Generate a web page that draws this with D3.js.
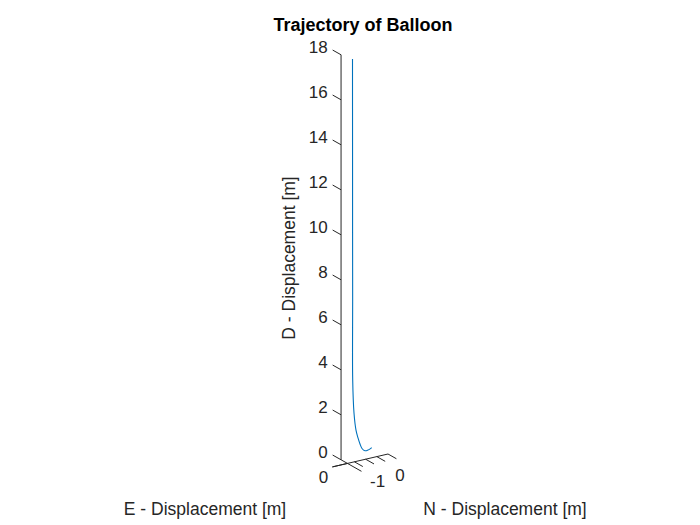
<!DOCTYPE html>
<html><head><meta charset="utf-8">
<script src="https://cdn.jsdelivr.net/npm/d3@7"></script>
<style>body{margin:0;background:#fff;} text{font-family:"Liberation Sans",Arial,sans-serif;fill:#262626;}</style>
</head><body>
<svg id="chart" width="700" height="525"></svg>
<script>
// ---- data ----
const trajE = [0.3, 0.3, 0.3, 0.3, 0.3, 0.3, 0.3, 0.3, 0.3, 0.3, 0.3, 0.3, 0.3, 0.3];
const trajN = [-1.317, -1.315, -1.313, -1.310, -1.308, -1.25, -1.161, -1.071, -0.982, -0.893, -0.759, -0.625, -0.53, -0.46];
const trajD = [17.71, 14.0, 10.0, 7.0, 3.44, 1.96, 1.18, 0.81, 0.52, 0.30, 0.17, 0.17, 0.20, 0.24];
const dTicks = [0, 2, 4, 6, 8, 10, 12, 14, 16, 18];
const dTickLabels = ["0", "2", "4", "6", "8", "10", "12", "14", "16", "18"];
const nTicks = [-1.5, -1, -0.5, 0];
const nTickLabels = ["", "-1", "", "0"];
const eTicks = [0];
const eTickLabels = ["0"];
const eDomain = [-0.7, 0.32];
const nDomain = [-2.5, 0];
const dDomain = [0, 18];
const nAxisE = 0;       // E position of N axis
const eAxisN = -1.81;   // N position of E axis / vertical axis
const zAxisE = 0.32;    // E position of vertical axis

// ---- projection via linear scales ----
const ox = 388, oy = 454;
const sEx = d3.scaleLinear().domain([0, 1]).range([0, -20]);
const sEy = d3.scaleLinear().domain([0, 1]).range([0, -11.3]);
const sNx = d3.scaleLinear().domain(nDomain).range([-56, 0]);
const sNy = d3.scaleLinear().domain(nDomain).range([13, 0]);
const sD  = d3.scaleLinear().domain(dDomain).range([0, -405]);
const P = (e, n, d) => [ox + sEx(e) + sNx(n), oy + sEy(e) + sNy(n) + sD(d)];

const svg = d3.select("#chart");
const ink = "#262626";
const g = svg.append("g");
const seg = (a, b) => g.append("line").attr("x1", a[0]).attr("y1", a[1]).attr("x2", b[0]).attr("y2", b[1])
  .attr("stroke", ink).attr("stroke-width", 1);
const tickFont = 17, labelFont = 17.5;

// vertical (D) axis
seg(P(zAxisE, eAxisN, dDomain[0]), P(zAxisE, eAxisN, dDomain[1]));
dTicks.forEach((t, i) => {
  const a = P(zAxisE, eAxisN, t), b = P(zAxisE + 0.42, eAxisN, t);
  seg(a, b);
  g.append("text").attr("x", b[0] - 5).attr("y", b[1] - 2).attr("text-anchor", "end")
    .attr("dominant-baseline", "middle").attr("font-size", tickFont).text(dTickLabels[i]);
});
// E axis
seg(P(eDomain[1], eAxisN, 0), P(eDomain[0], eAxisN, 0));
eTicks.forEach((t, i) => {
  const a = P(t, eAxisN, 0), b = P(t, eAxisN - 0.65, 0);
  seg(a, b);
  g.append("text").attr("x", a[0] - 24).attr("y", a[1] + 15).attr("text-anchor", "middle")
    .attr("dominant-baseline", "middle").attr("font-size", tickFont).text(eTickLabels[i]);
});
// N axis
seg(P(nAxisE, nDomain[0], 0), P(nAxisE, nDomain[1], 0));
nTicks.forEach((t, i) => {
  const a = P(nAxisE, t, 0), b = P(nAxisE - 0.42, t, 0);
  seg(a, b);
  if (nTickLabels[i]) g.append("text").attr("x", a[0] + 12).attr("y", a[1] + 23).attr("text-anchor", "middle")
    .attr("dominant-baseline", "middle").attr("font-size", tickFont).text(nTickLabels[i]);
});

// trajectory
const pts = trajD.map((d, i) => P(trajE[i], trajN[i], d));
svg.append("path").attr("d", d3.line().curve(d3.curveCatmullRom)(pts))
  .attr("fill", "none").attr("stroke", "#0072BD").attr("stroke-width", 1.1);

// titles
svg.append("text").attr("x", 363).attr("y", 26).attr("text-anchor", "middle").attr("dominant-baseline", "middle")
  .attr("font-size", 18).attr("font-weight", "bold").style("fill", "#000").text("Trajectory of Balloon");
svg.append("text").attr("x", 205).attr("y", 510).attr("text-anchor", "middle").attr("dominant-baseline", "middle")
  .attr("font-size", labelFont).text("E - Displacement [m]");
svg.append("text").attr("x", 505).attr("y", 510).attr("text-anchor", "middle").attr("dominant-baseline", "middle")
  .attr("font-size", labelFont).text("N - Displacement [m]");
svg.append("text").attr("transform", "translate(290,258) rotate(-90)").attr("text-anchor", "middle")
  .attr("dominant-baseline", "middle").attr("font-size", labelFont).text("D - Displacement [m]");
</script>
</body></html>
